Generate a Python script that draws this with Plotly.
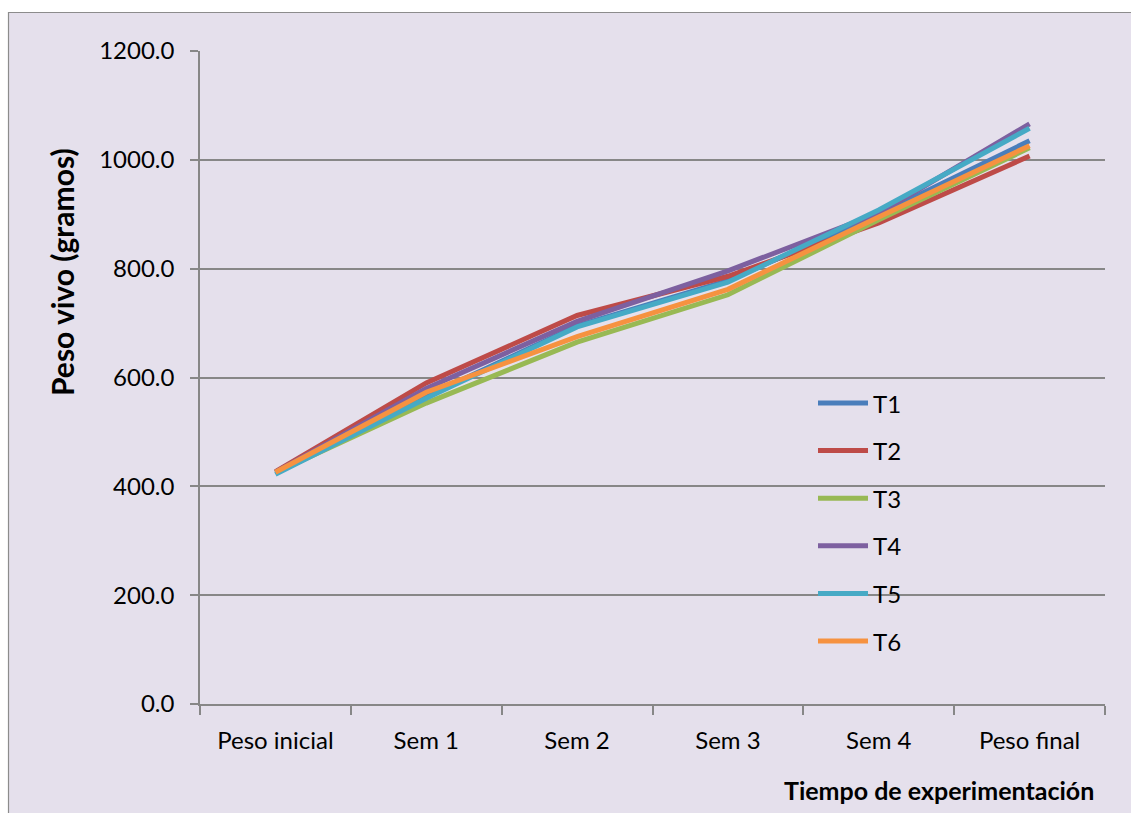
import plotly.graph_objects as go

# Weekly live weight per treatment (grams)
categories = ["Peso inicial", "Sem 1", "Sem 2", "Sem 3", "Sem 4", "Peso final"]
t1 = [425, 565, 695, 778, 900, 1035]
t2 = [427, 590, 714, 786, 884, 1007]
t3 = [425, 553, 665, 752, 890, 1022]
t4 = [426, 580, 703, 796, 902, 1066]
t5 = [422, 562, 693, 775, 908, 1058]
t6 = [426, 573, 675, 762, 895, 1026]
series_names = ["T1", "T2", "T3", "T4", "T5", "T6"]
series_values = [t1, t2, t3, t4, t5, t6]
y_ticks = [0, 200, 400, 600, 800, 1000, 1200]

colors = ["#4A7EBB", "#BE4B48", "#98B954", "#7D60A0", "#46AAC5", "#F69240"]
bg = "#E5E0EC"
grid = "#878787"
FONT = "Lato"

W, H = 1131, 813
L, R, T, B = 200, 1105, 51, 704  # plot area in pixels


def px_x(x):
    return (x - L) / (R - L)


def px_y(y):
    return (B - y) / (B - T)


fig = go.Figure()
for name, vals, c in zip(series_names, series_values, colors):
    fig.add_trace(go.Scatter(
        x=categories, y=vals, mode="lines", name=name,
        line=dict(color=c, width=5), showlegend=False,
    ))

shapes = [
    # chart frame
    dict(type="rect", xref="paper", yref="paper", layer="below",
         x0=px_x(8.5), x1=px_x(W + 5), y0=px_y(H + 5), y1=px_y(12.5),
         fillcolor=bg, line=dict(color="#8C8C8C", width=1.2)),
]
annotations = []

# legend entries
leg_y0 = 403
leg_step = 47.6
for i, (name, c) in enumerate(zip(series_names, colors)):
    yy = leg_y0 + i * leg_step
    shapes.append(dict(type="line", xref="paper", yref="paper",
                       x0=px_x(818), x1=px_x(868), y0=px_y(yy), y1=px_y(yy),
                       line=dict(color=c, width=5)))
    annotations.append(dict(xref="paper", yref="paper", x=px_x(871), y=px_y(yy),
                            text=name, showarrow=False, xanchor="left",
                            yanchor="middle",
                            font=dict(family=FONT, size=24, color="#000000")))

annotations.append(dict(xref="paper", yref="paper", x=px_x(62), y=px_y(272),
                        text="<b>Peso vivo (gramos)</b>", showarrow=False,
                        textangle=-90, xanchor="center", yanchor="middle",
                        font=dict(family=FONT, size=30, color="#000000")))
annotations.append(dict(xref="paper", yref="paper", x=px_x(1096), y=px_y(790),
                        text="<b>Tiempo de experimentación</b>", showarrow=False,
                        xanchor="right", yanchor="middle",
                        font=dict(family=FONT, size=25, color="#000000")))

fig.update_layout(
    width=W, height=H,
    margin=dict(l=L, r=W - R, t=T, b=H - B, pad=0),
    paper_bgcolor="#FFFFFF",
    plot_bgcolor="rgba(0,0,0,0)",
    font=dict(family=FONT, size=24, color="#000000"),
    shapes=shapes,
    annotations=annotations,
)
fig.update_xaxes(
    type="category", range=[-0.5, 5.5],
    showline=True, linecolor=grid, linewidth=1.5,
    showgrid=False, ticks="outside", tickson="boundaries",
    ticklen=9, tickcolor=grid, tickwidth=1.5,
    tickfont=dict(family=FONT, size=24), ticklabelstandoff=14,
)
fig.update_yaxes(
    range=[0, 1200], tickvals=y_ticks, tickformat=".1f",
    showline=True, linecolor=grid, linewidth=1.5,
    showgrid=True, gridcolor=grid, gridwidth=1.5,
    ticks="outside", ticklen=8, tickcolor=grid, tickwidth=1.5,
    tickfont=dict(family=FONT, size=24), ticklabelstandoff=11,
    zeroline=False,
)

fig.write_html("out.html")
